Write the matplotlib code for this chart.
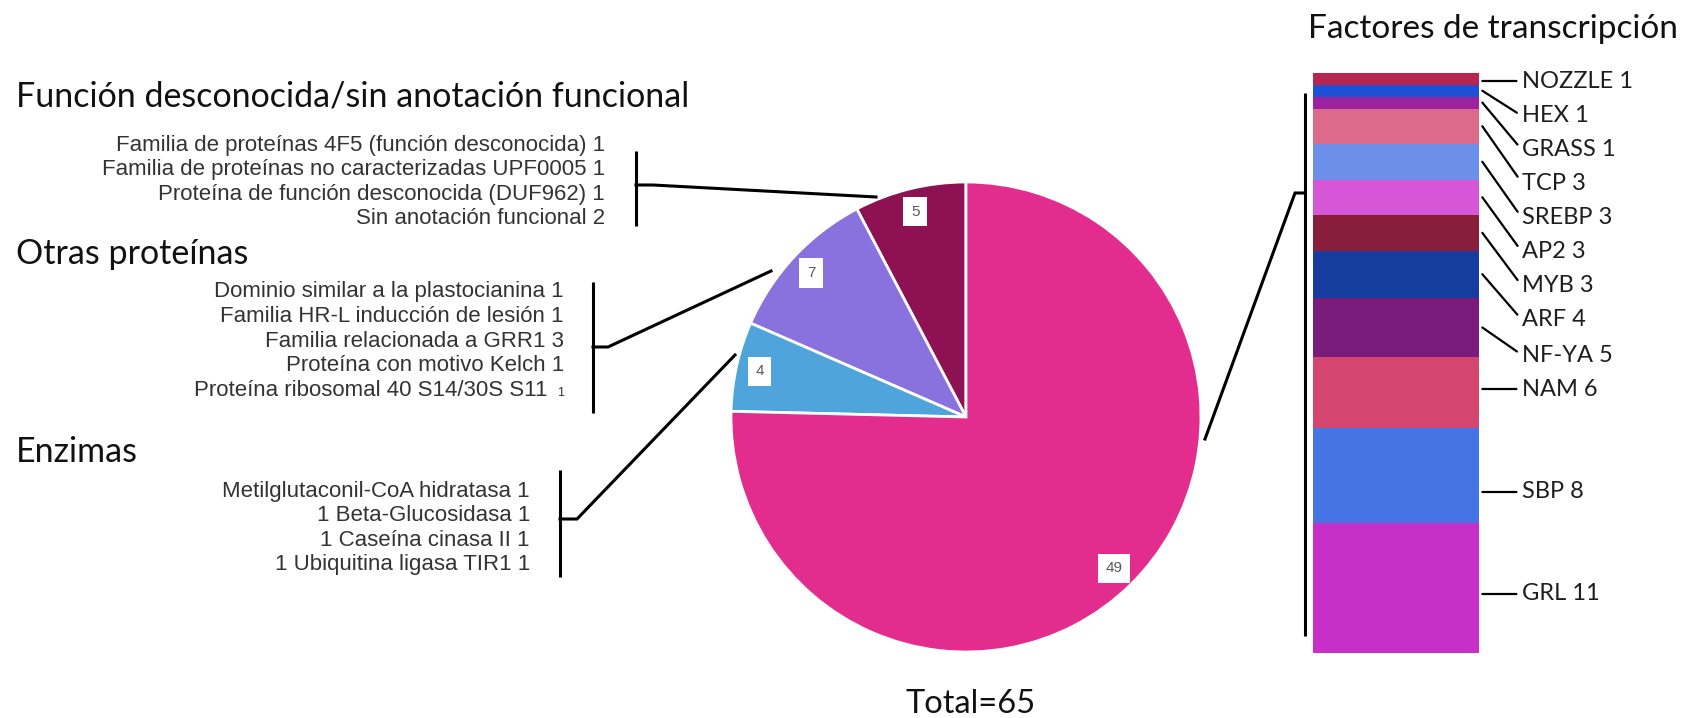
import matplotlib.pyplot as plt
import numpy as np

# --- datos ---
pie_vals = [5, 7, 4, 49]
pie_cols = ['#8E1154', '#8971DE', '#4FA5DB', '#E22D8E']
total = sum(pie_vals)

g1_title = 'Función desconocida/sin anotación funcional'
g1_names = ['Familia de proteínas 4F5 (función desconocida)',
            'Familia de proteínas no caracterizadas UPF0005',
            'Proteína de función desconocida (DUF962)',
            'Sin anotación funcional']
g1_counts = [1, 1, 1, 2]

g2_title = 'Otras proteínas'
g2_names = ['Dominio similar a la plastocianina',
            'Familia HR-L inducción de lesión',
            'Familia relacionada a GRR1',
            'Proteína con motivo Kelch',
            'Proteína ribosomal 40 S14/30S S11']
g2_counts = [1, 1, 3, 1, 1]

g3_title = 'Enzimas'
g3_names = ['Metilglutaconil-CoA hidratasa',
            '1 Beta-Glucosidasa',
            '1 Caseína cinasa II',
            '1 Ubiquitina ligasa TIR1']
g3_counts = [1, 1, 1, 1]

tf_title = 'Factores de transcripción'
tf_names = ['NOZZLE', 'HEX', 'GRASS', 'TCP', 'SREBP', 'AP2', 'MYB', 'ARF',
            'NF-YA', 'NAM', 'SBP', 'GRL']
tf_vals = [1, 1, 1, 3, 3, 3, 3, 4, 5, 6, 8, 11]
tf_cols = ['#B82650', '#1C50D6', '#9C22A0', '#DC6A8B', '#6C8FE9', '#D557D7',
           '#891E3C', '#163C9F', '#791B7B', '#D4466F', '#4774E4', '#C72FC8']

# --- figura (coordenadas en pixeles) ---
W, H = 1698, 718
fig = plt.figure(figsize=(W / 100, H / 100), dpi=100)

# pastel
cx, cy, r = 966, 417, 235
axp = fig.add_axes([(cx - r) / W, (H - cy - r) / H, 2 * r / W, 2 * r / H])
axp.pie(pie_vals, colors=pie_cols, startangle=90, counterclock=True,
        autopct=lambda p: f'{p * total / 100:.0f}', pctdistance=0.9,
        wedgeprops=dict(edgecolor='white', linewidth=2),
        textprops=dict(color='#595959', fontsize=11, family='Liberation Sans',
                       bbox=dict(boxstyle='square,pad=0.5', fc='white', ec='none')))
axp.set_xlim(-1, 1)
axp.set_ylim(-1, 1)
axp.axis('off')

# barra apilada
bx0, bx1, by0, by1 = 1313, 1479, 73, 653
axb = fig.add_axes([bx0 / W, (H - by1) / H, (bx1 - bx0) / W, (by1 - by0) / H])
bottoms = np.concatenate([[0], np.cumsum(tf_vals)[:-1]])
axb.bar(0, tf_vals, bottom=bottoms, width=1, color=tf_cols)
axb.set_xlim(-0.5, 0.5)
axb.set_ylim(sum(tf_vals), 0)
axb.axis('off')

# capa de texto y lineas
ax = fig.add_axes([0, 0, 1, 1])
ax.set_xlim(0, W)
ax.set_ylim(H, 0)
ax.axis('off')

tfont = 'Lato'
ifont = 'Liberation Sans'
icol = '#333333'
lw = 2.2

def grupo(title, ty, names, counts, xr, y0, small_last=False):
    ax.text(16, ty, title, fontsize=24.5, family=tfont, color='#111111', va='center')
    for i, (n, c) in enumerate(zip(names, counts)):
        y = y0 + i * 24.6
        if small_last and i == len(names) - 1:
            ax.text(xr - 16, y, n, fontsize=16, family=ifont, color=icol,
                    ha='right', va='center')
            ax.text(xr, y + 3, str(c), fontsize=9, family=ifont, color=icol,
                    ha='right', va='center')
        else:
            ax.text(xr, y, f'{n} {c}', fontsize=16, family=ifont, color=icol,
                    ha='right', va='center')

grupo(g1_title, 96, g1_names, g1_counts, 605, 145)
grupo(g2_title, 254, g2_names, g2_counts, 564, 292, small_last=True)
grupo(g3_title, 452, g3_names, g3_counts, 530, 491)

# corchetes y conectores al pastel
brackets = [
    ([636, 636], [151, 226], [636, 653, 876], [185, 185, 197]),
    ([593, 593], [282, 413], [593, 608, 771], [347, 347, 271]),
    ([560, 560], [470, 577], [560, 577, 735], [519, 519, 355]),
    ([1305, 1305], [93, 636], [1305, 1295, 1205], [193, 193, 439]),
]
for vx, vy, lx, ly in brackets:
    ax.plot(vx, vy, color='black', lw=lw, solid_capstyle='butt')
    ax.plot(lx, ly, color='black', lw=lw, solid_joinstyle='miter')

ax.text(1493, 29, tf_title, fontsize=24, family=tfont, color='#111111',
        ha='center', va='center')
ax.text(971, 704, f'Total={total}', fontsize=23.5, family=tfont, color='#111111',
        ha='center', va='center')

# etiquetas de la barra
label_y = [81, 116, 150, 183, 218, 252, 286, 320, 355, 389, 492, 594]
for name, v, b, ly in zip(tf_names, tf_vals, bottoms, label_y):
    mid = b + v / 2
    seg_px = v * (by1 - by0) / sum(tf_vals)
    mid_px = by0 + mid * (by1 - by0) / sum(tf_vals)
    anchor = ly if abs(ly - mid_px) < seg_px / 4 else mid_px
    anchor_u = (anchor - by0) * sum(tf_vals) / (by1 - by0)
    ax.annotate(f'{name} {v}', xy=(0.52, anchor_u), xycoords=axb.transData,
                xytext=(1522, ly), textcoords='data', fontsize=17, family=tfont,
                color='#1E1E1E', ha='left', va='center',
                arrowprops=dict(arrowstyle='-', color='black', lw=1.6,
                                shrinkA=2, shrinkB=0, relpos=(0, 0.5)))

fig.savefig('out.png', dpi=100)
